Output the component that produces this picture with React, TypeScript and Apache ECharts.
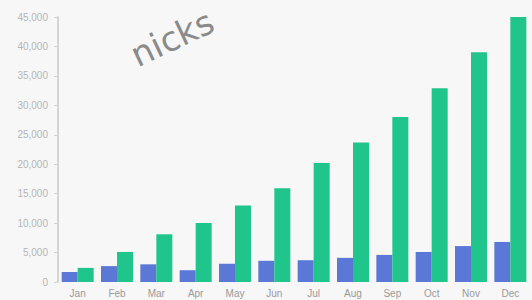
import React, { useEffect, useRef } from "react";
import * as echarts from "echarts";

const months = ["Jan", "Feb", "Mar", "Apr", "May", "Jun", "Jul", "Aug", "Sep", "Oct", "Nov", "Dec"];
const blueValues = [1700, 2700, 3000, 2000, 3100, 3600, 3700, 4100, 4600, 5100, 6100, 6800];
const greenValues = [2400, 5100, 8100, 10000, 13000, 15900, 20200, 23700, 28000, 32900, 39000, 45000];
const yMax = 45000;
const yInterval = 5000;
const watermark = "nicks";

export default function App() {
  const ref = useRef<HTMLDivElement>(null);
  useEffect(() => {
    if (!ref.current) return;
    const chart = echarts.init(ref.current, null, { renderer: "svg" });
    chart.setOption({
      animation: false,
      backgroundColor: "#f7f7f7",
      grid: { left: 58, right: 2, top: 17, bottom: 18 },
      xAxis: {
        type: "category",
        data: months,
        axisLine: { show: false },
        axisTick: { show: false },
        axisLabel: { color: "#999", fontSize: 10, margin: 6 },
      },
      yAxis: {
        type: "value",
        min: 0,
        max: yMax,
        interval: yInterval,
        splitLine: { show: false },
        axisLine: { show: true, lineStyle: { color: "#d4d4d4", width: 2 } },
        axisTick: { show: true, length: 4, lineStyle: { color: "#d4d4d4" } },
        axisLabel: { color: "#b5b5b5", fontSize: 10, margin: 10 },
      },
      graphic: [
        {
          type: "text",
          x: 140,
          y: 72,
          rotation: 0.44,
          style: {
            text: watermark,
            fontSize: 34,
            fontFamily: "DejaVu Sans",
            fill: "#8a8a8a",
            textAlign: "left",
            textVerticalAlign: "bottom",
          },
        },
      ],
      series: [
        {
          type: "bar",
          data: blueValues,
          barWidth: 16,
          barGap: "0%",
          itemStyle: { color: "#5b78d6" },
        },
        {
          type: "bar",
          data: greenValues,
          barWidth: 16,
          itemStyle: { color: "#20c58c" },
        },
      ],
    });
    return () => chart.dispose();
  }, []);
  return <div ref={ref} style={{ width: 532, height: 300, position: "absolute", left: 0, top: 0 }} />;
}
